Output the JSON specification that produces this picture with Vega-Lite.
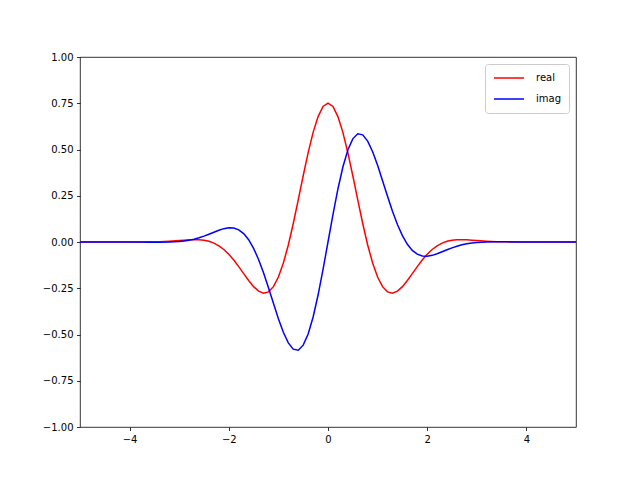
{
  "$schema": "https://vega.github.io/schema/vega-lite/v6.json",
  "width": 496,
  "height": 370,
  "autosize": {"type": "none"},
  "padding": {"left": 80, "top": 57, "right": 64, "bottom": 53},
  "background": "white",
  "config": {
    "font": "DejaVu Sans",
    "view": {"stroke": "black", "strokeWidth": 0.8},
    "axis": {
      "grid": false,
      "domain": false,
      "tickColor": "black",
      "tickWidth": 0.8,
      "tickSize": 3.5,
      "labelFont": "DejaVu Sans",
      "labelFontSize": 10,
      "labelColor": "black",
      "labelPadding": 3.5,
      "title": null
    }
  },
  "data": {
    "values": [
      {"t": -5.0, "real": 0.0, "imag": 0.0},
      {"t": -4.5, "real": 0.0, "imag": 0.0},
      {"t": -4.0, "real": 0.0, "imag": -0.0003},
      {"t": -3.8, "real": 0.0001, "imag": -0.0005},
      {"t": -3.6, "real": 0.0007, "imag": -0.0009},
      {"t": -3.4, "real": 0.0020, "imag": -0.0011},
      {"t": -3.2, "real": 0.0045, "imag": -0.0005},
      {"t": -3.0, "real": 0.0080, "imag": 0.0023},
      {"t": -2.9, "real": 0.0099, "imag": 0.0052},
      {"t": -2.8, "real": 0.0116, "imag": 0.0094},
      {"t": -2.7, "real": 0.0124, "imag": 0.0151},
      {"t": -2.6, "real": 0.0120, "imag": 0.0226},
      {"t": -2.5, "real": 0.0094, "imag": 0.0316},
      {"t": -2.4, "real": 0.0037, "imag": 0.0420},
      {"t": -2.3, "real": -0.0060, "imag": 0.0530},
      {"t": -2.2, "real": -0.0205, "imag": 0.0636},
      {"t": -2.1, "real": -0.0406, "imag": 0.0722},
      {"t": -2.0, "real": -0.0665, "imag": 0.0770},
      {"t": -1.9, "real": -0.0977, "imag": 0.0756},
      {"t": -1.8, "real": -0.1333, "imag": 0.0658},
      {"t": -1.7, "real": -0.1712, "imag": 0.0453},
      {"t": -1.6, "real": -0.2084, "imag": 0.0122},
      {"t": -1.5, "real": -0.2414, "imag": -0.0344},
      {"t": -1.4, "real": -0.2656, "imag": -0.0944},
      {"t": -1.3, "real": -0.2764, "imag": -0.1663},
      {"t": -1.2, "real": -0.2696, "imag": -0.2469},
      {"t": -1.1, "real": -0.2414, "imag": -0.3316},
      {"t": -1.0, "real": -0.1896, "imag": -0.4143},
      {"t": -0.9, "real": -0.1138, "imag": -0.4879},
      {"t": -0.8, "real": -0.0159, "imag": -0.5452},
      {"t": -0.7, "real": 0.0999, "imag": -0.5793},
      {"t": -0.6, "real": 0.2273, "imag": -0.5848},
      {"t": -0.5, "real": 0.3581, "imag": -0.5577},
      {"t": -0.4, "real": 0.4831, "imag": -0.4974},
      {"t": -0.3, "real": 0.5927, "imag": -0.4055},
      {"t": -0.2, "real": 0.6781, "imag": -0.2867},
      {"t": -0.1, "real": 0.7325, "imag": -0.1485},
      {"t": 0.0, "real": 0.7511, "imag": 0.0},
      {"t": 0.1, "real": 0.7325, "imag": 0.1485},
      {"t": 0.2, "real": 0.6781, "imag": 0.2867},
      {"t": 0.3, "real": 0.5927, "imag": 0.4055},
      {"t": 0.4, "real": 0.4831, "imag": 0.4974},
      {"t": 0.5, "real": 0.3581, "imag": 0.5577},
      {"t": 0.6, "real": 0.2273, "imag": 0.5848},
      {"t": 0.7, "real": 0.0999, "imag": 0.5793},
      {"t": 0.8, "real": -0.0159, "imag": 0.5452},
      {"t": 0.9, "real": -0.1138, "imag": 0.4879},
      {"t": 1.0, "real": -0.1896, "imag": 0.4143},
      {"t": 1.1, "real": -0.2414, "imag": 0.3316},
      {"t": 1.2, "real": -0.2696, "imag": 0.2469},
      {"t": 1.3, "real": -0.2764, "imag": 0.1663},
      {"t": 1.4, "real": -0.2656, "imag": 0.0944},
      {"t": 1.5, "real": -0.2414, "imag": 0.0344},
      {"t": 1.6, "real": -0.2084, "imag": -0.0122},
      {"t": 1.7, "real": -0.1712, "imag": -0.0453},
      {"t": 1.8, "real": -0.1333, "imag": -0.0658},
      {"t": 1.9, "real": -0.0977, "imag": -0.0756},
      {"t": 2.0, "real": -0.0665, "imag": -0.0770},
      {"t": 2.1, "real": -0.0406, "imag": -0.0722},
      {"t": 2.2, "real": -0.0205, "imag": -0.0636},
      {"t": 2.3, "real": -0.0060, "imag": -0.0530},
      {"t": 2.4, "real": 0.0037, "imag": -0.0420},
      {"t": 2.5, "real": 0.0094, "imag": -0.0316},
      {"t": 2.6, "real": 0.0120, "imag": -0.0226},
      {"t": 2.7, "real": 0.0124, "imag": -0.0151},
      {"t": 2.8, "real": 0.0116, "imag": -0.0094},
      {"t": 2.9, "real": 0.0099, "imag": -0.0052},
      {"t": 3.0, "real": 0.0080, "imag": -0.0023},
      {"t": 3.2, "real": 0.0045, "imag": 0.0005},
      {"t": 3.4, "real": 0.0020, "imag": 0.0011},
      {"t": 3.6, "real": 0.0007, "imag": 0.0009},
      {"t": 3.8, "real": 0.0001, "imag": 0.0005},
      {"t": 4.0, "real": 0.0, "imag": 0.0003},
      {"t": 4.5, "real": 0.0, "imag": 0.0},
      {"t": 5.0, "real": 0.0, "imag": 0.0}
    ]
  },
  "transform": [{"fold": ["real", "imag"], "as": ["part", "value"]}],
  "mark": {"type": "line", "strokeWidth": 1.5, "clip": true},
  "encoding": {
    "x": {
      "field": "t",
      "type": "quantitative",
      "scale": {"domain": [-5, 5], "nice": false, "zero": false},
      "axis": {"values": [-4, -2, 0, 2, 4], "format": "d"}
    },
    "y": {
      "field": "value",
      "type": "quantitative",
      "scale": {"domain": [-1, 1], "nice": false},
      "axis": {"values": [-1, -0.75, -0.5, -0.25, 0, 0.25, 0.5, 0.75, 1], "format": ".2f"}
    },
    "color": {
      "field": "part",
      "type": "nominal",
      "sort": ["real", "imag"],
      "scale": {"domain": ["real", "imag"], "range": ["#ff0000", "#0000ff"]},
      "legend": {
        "title": null,
        "orient": "top-right",
        "offset": 7,
        "padding": 8,
        "strokeColor": "#cccccc",
        "fillColor": "white",
        "cornerRadius": 3,
        "symbolType": "stroke",
        "symbolSize": 900,
        "symbolStrokeWidth": 1.5,
        "clipHeight": 12,
        "rowPadding": 9,
        "labelFont": "DejaVu Sans",
        "labelFontSize": 10,
        "labelColor": "black",
        "labelOffset": 11
      }
    }
  }
}
